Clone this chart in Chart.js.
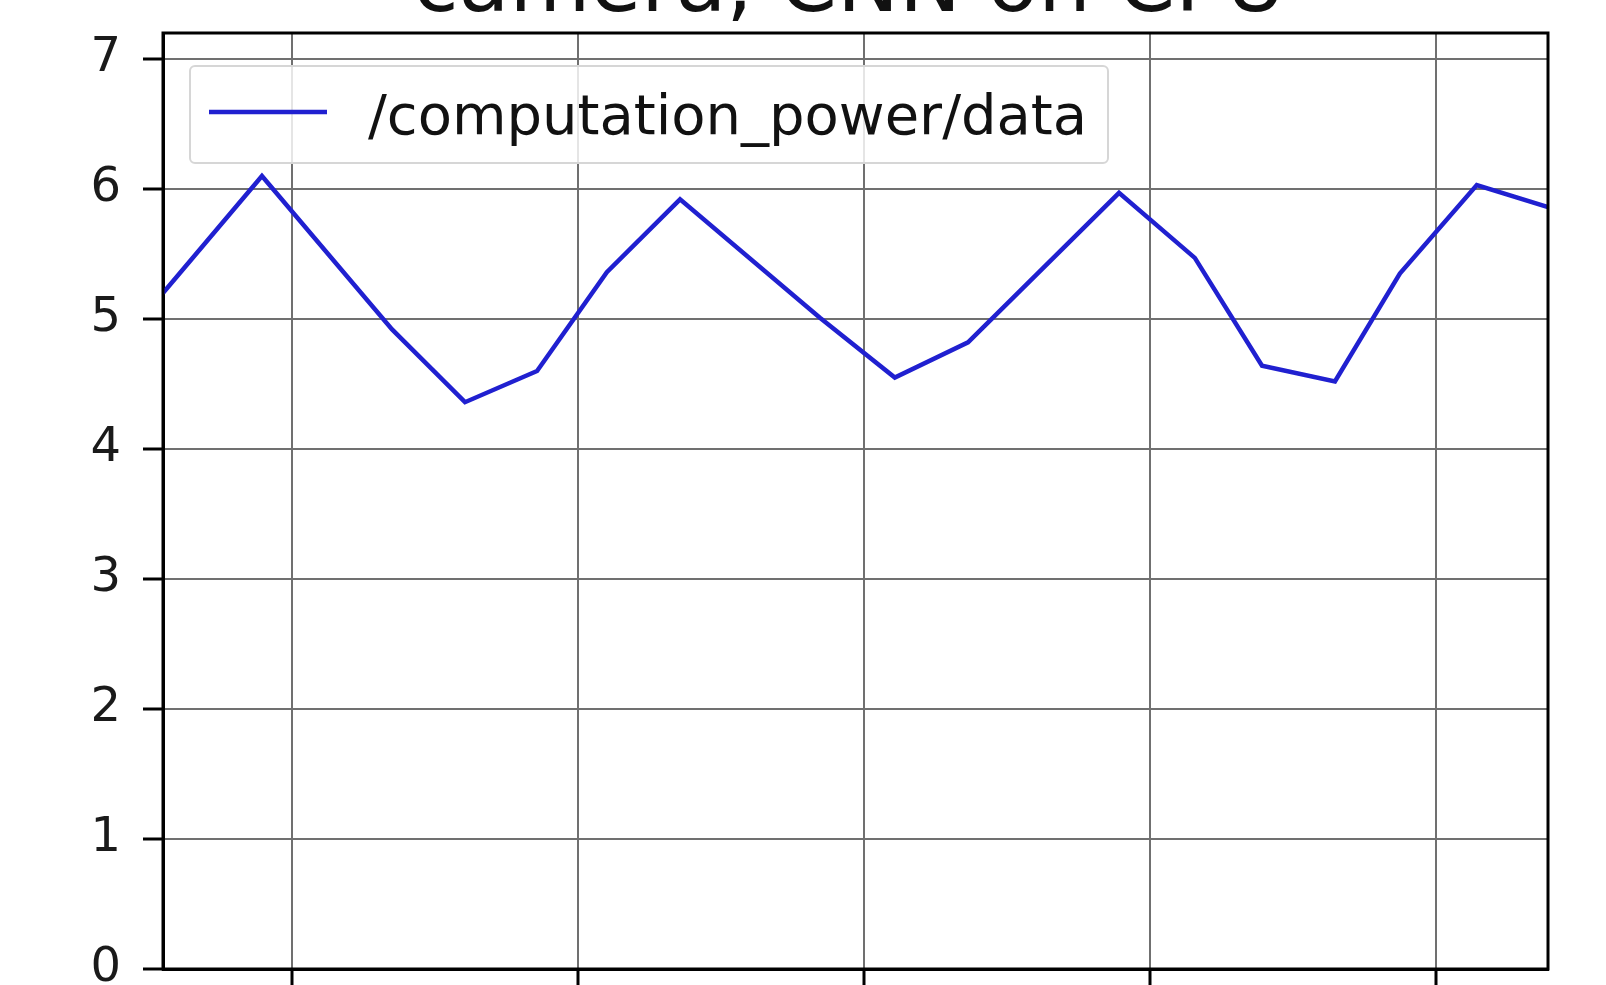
<!DOCTYPE html>
<html>
<head>
<meta charset="utf-8">
<title>computation power</title>
<script src="https://cdn.jsdelivr.net/npm/chart.js@4/dist/chart.umd.min.js"></script>
<style>
  html, body { margin: 0; padding: 0; background: #fff; overflow: hidden; }
  #wrap { position: absolute; left: 0; top: 0; width: 1606px; height: 985px; }
</style>
</head>
<body>
<div id="wrap"><canvas id="chart" width="1606" height="985"></canvas></div>
<script>
// ─── DATA ─────────────────────────────────────────────────
const TITLE = 'camera, CNN on CPU';
const SERIES_LABEL = '/computation_power/data';
const X_VALUES = [0.549, 0.895, 1.350, 1.605, 1.857, 2.101, 2.357, 2.846, 3.108,
                  3.364, 3.892, 4.157, 4.392, 4.647, 4.874, 5.143, 5.392];
const Y_VALUES = [5.20, 6.10, 4.92, 4.36, 4.60, 5.36, 5.92, 5.01, 4.55,
                  4.82, 5.97, 5.47, 4.64, 4.52, 5.35, 6.03, 5.86];
const X_TICKS = [1, 2, 3, 4, 5];
const Y_TICKS = [0, 1, 2, 3, 4, 5, 6, 7];
const Y_MAX = 7.2;

// ─── STYLE ───────────────────────────────────────────────
const BLUE = '#2020d0';
const GRID = '#707070';
const FONT = "'DejaVu Sans', sans-serif";

// title sits mostly above the visible area, only its bottom shows
const titlePlugin = {
  id: 'cutTitle',
  afterDraw(chart) {
    const { ctx, chartArea } = chart;
    ctx.save();
    ctx.font = `83px ${FONT}`;
    ctx.fillStyle = '#111';
    ctx.textAlign = 'center';
    ctx.textBaseline = 'alphabetic';
    ctx.fillText(TITLE, (chartArea.left + chartArea.right) / 2 - 6, 10.5);
    ctx.restore();
  }
};

// matplotlib-like legend box inside the axes
const boxLegend = {
  id: 'boxLegend',
  afterDatasetsDraw(chart) {
    const { ctx, chartArea } = chart;
    const x = chartArea.left + 27, y = chartArea.top + 33, w = 918, h = 97, r = 5;
    ctx.save();
    ctx.beginPath();
    ctx.roundRect(x, y, w, h, r);
    ctx.fillStyle = 'rgba(255,255,255,0.82)';
    ctx.fill();
    ctx.strokeStyle = '#d6d6d6';
    ctx.lineWidth = 2;
    ctx.stroke();

    const ds = chart.data.datasets[0];
    ctx.beginPath();
    ctx.moveTo(x + 19, y + 46);
    ctx.lineTo(x + 137, y + 46);
    ctx.strokeStyle = ds.borderColor;
    ctx.lineWidth = ds.borderWidth;
    ctx.stroke();

    ctx.font = `56px ${FONT}`;
    ctx.fillStyle = '#111';
    ctx.textBaseline = 'alphabetic';
    ctx.fillText(ds.label, x + 178, y + 68);
    ctx.restore();
  }
};

// top and right spines
const framePlugin = {
  id: 'frame',
  afterDraw(chart) {
    const { ctx, chartArea: a } = chart;
    ctx.save();
    ctx.strokeStyle = '#000';
    ctx.lineWidth = 3;
    ctx.strokeRect(a.left, a.top, a.right - a.left, a.bottom - a.top);
    ctx.restore();
  }
};

new Chart(document.getElementById('chart'), {
  type: 'line',
  data: {
    datasets: [{
      label: SERIES_LABEL,
      data: X_VALUES.map((x, i) => ({ x, y: Y_VALUES[i] })),
      borderColor: BLUE,
      borderWidth: 4.5,
      pointRadius: 0,
      tension: 0,
      fill: false,
    }],
  },
  options: {
    responsive: false,
    animation: false,
    layout: { padding: { top: 33, right: 58, bottom: 0, left: 0 } },
    plugins: {
      legend: { display: false },
      title: { display: false },
      tooltip: { enabled: false },
    },
    scales: {
      x: {
        type: 'linear',
        min: X_VALUES[0],
        max: X_VALUES[X_VALUES.length - 1],
        afterBuildTicks: s => { s.ticks = X_TICKS.map(v => ({ value: v })); },
        afterFit: s => { s.height = 16; s.paddingLeft = 0; s.paddingRight = 0; },
        ticks: { display: false },
        grid: { color: GRID, lineWidth: 2, tickColor: '#000', tickWidth: 3, tickLength: 20 },
        border: { color: '#000', width: 3 },
      },
      y: {
        type: 'linear',
        min: 0,
        max: Y_MAX,
        afterBuildTicks: s => { s.ticks = Y_TICKS.map(v => ({ value: v })); },
        afterFit: s => { s.width = 163; s.paddingTop = 0; s.paddingBottom = 0; },
        ticks: {
          color: '#1a1a1a',
          padding: 22,
          font: { family: FONT, size: 48 },
          autoSkip: false,
        },
        grid: { color: GRID, lineWidth: 2, tickColor: '#000', tickWidth: 3, tickLength: 20 },
        border: { color: '#000', width: 3 },
      },
    },
  },
  plugins: [boxLegend, framePlugin, titlePlugin],
});
</script>
</body>
</html>
